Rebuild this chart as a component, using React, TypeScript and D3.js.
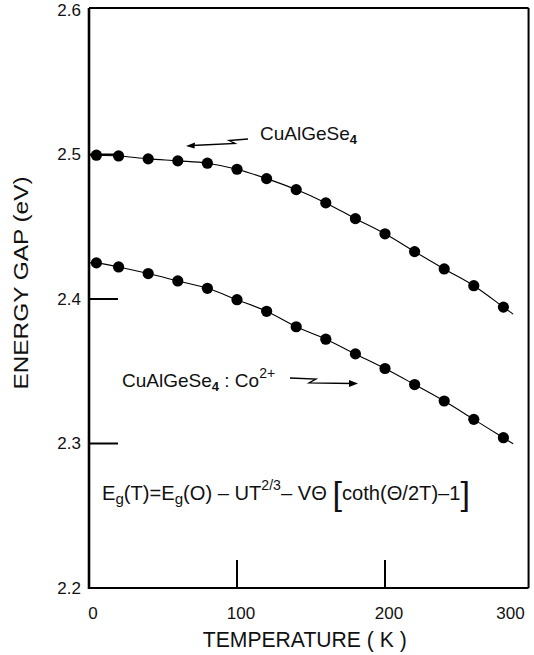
import React from 'react';
import * as d3 from 'd3';

// temperature (K) and energy gap (eV)
const temps = [5, 20, 40, 60, 80, 100, 120, 140, 160, 180, 200, 220, 240, 260, 280];
const pureGap = [2.4995, 2.499, 2.497, 2.4956, 2.494, 2.4898, 2.4833, 2.4757, 2.4665, 2.4556, 2.4451, 2.4328, 2.4208, 2.4092, 2.3944];
const cobaltGap = [2.425, 2.4222, 2.4176, 2.4125, 2.4074, 2.3995, 2.3915, 2.3808, 2.3722, 2.362, 2.3519, 2.3408, 2.3294, 2.3167, 2.304];

const xTicks = [0, 100, 200, 300];
const yTicks = [2.2, 2.3, 2.4, 2.5, 2.6];
const xInnerTicks = [100, 200];
const yInnerTicks = [2.3, 2.4, 2.5];
const xMax = 297;

const W = 534, H = 655;
const FONT = '"Liberation Sans", Arial, sans-serif';

const x = d3.scaleLinear().domain([0, 300]).range([89, 533]);
const y = d3.scaleLinear().domain([2.2, 2.6]).range([588, 10]);

function curvePath(vals: number[]) {
  const pts: [number, number][] = temps.map((t, i) => [x(t), y(vals[i])]);
  const n = pts.length;
  const p = pts[n - 1], q = pts[n - 2];
  // fitted curve runs a little past the last point, and starts at the axis
  const ext: [number, number] = [p[0] + (p[0] - q[0]) * 0.33, p[1] + (p[1] - q[1]) * 0.33];
  const all: [number, number][] = [[x(0), pts[0][1]], ...pts, ext];
  return d3.line().curve(d3.curveCatmullRom)(all) || '';
}

const App = () => {
  const x0 = x(0), x1 = x(xMax), yb = y(2.2), yt = y(2.6);
  return (
    <svg width={W} height={H} style={{ position: 'absolute', left: 0, top: 0, background: '#fff' }}>
      <rect width={W} height={H} fill="#fff" />
      {/* frame */}
      <line x1={x0} y1={yt - 2} x2={x0} y2={yb + 1} stroke="#000" strokeWidth={2.6} />
      <line x1={x0} y1={yb} x2={x1} y2={yb} stroke="#000" strokeWidth={2} />
      <line x1={x0} y1={yt - 2} x2={x1} y2={yt - 2} stroke="#000" strokeWidth={1.8} />
      <line x1={x1} y1={yt - 2} x2={x1} y2={yb} stroke="#000" strokeWidth={2} />

      {yInnerTicks.map(v => (
        <line key={'yt' + v} x1={x0} x2={x0 + 29} y1={y(v)} y2={y(v)} stroke="#000" strokeWidth={2} />
      ))}
      {xInnerTicks.map(v => (
        <line key={'xt' + v} x1={x(v)} x2={x(v)} y1={yb} y2={yb - 28} stroke="#000" strokeWidth={2} />
      ))}

      {yTicks.map(v => (
        <text key={'yl' + v} x={x0 - 8} y={y(v)} dy="0.35em" textAnchor="end"
          fontFamily={FONT} fontSize={17} fill="#111">{v.toFixed(1)}</text>
      ))}
      {xTicks.map((v, i) => (
        <text key={'xl' + v} x={i === xTicks.length - 1 ? x1 - 18 : x(v) + 4} y={619} textAnchor="middle"
          fontFamily={FONT} fontSize={17} fill="#111">{v}</text>
      ))}

      <text x={(x0 + x(xMax)) / 2 - 4} y={647} textAnchor="middle" fontFamily={FONT} fontSize={22}
        textLength={204} lengthAdjust="spacingAndGlyphs" fill="#111">TEMPERATURE ( K )</text>
      <text transform="translate(28,283) rotate(-90)" textAnchor="middle" fontFamily={FONT} fontSize={21}
        textLength={213} lengthAdjust="spacingAndGlyphs" fill="#111">ENERGY  GAP  (eV)</text>

      {/* curves and points */}
      {[pureGap, cobaltGap].map((vals, k) => (
        <g key={'s' + k}>
          <path d={curvePath(vals)} fill="none" stroke="#000" strokeWidth={1.1} />
          {temps.map((t, i) => (
            <circle key={i} cx={x(t)} cy={y(vals[i])} r={5.6} fill="#000" />
          ))}
        </g>
      ))}

      {/* series labels */}
      <text x={260} y={140} fontFamily={FONT} fontSize={19} fill="#111">
        CuAlGeSe<tspan dy={4} fontSize={13} fontWeight="bold">4</tspan>
      </text>
      <path d="M248,139 L229,140.5 L235,143.5 L192,145.5" fill="none" stroke="#000" strokeWidth={1.3} />
      <path d="M186,146 L195,142.5 L194.5,148.5 Z" fill="#000" />

      <text x={122} y={387} fontFamily={FONT} fontSize={19} fill="#111">
        CuAlGeSe<tspan dy={4} fontSize={13} fontWeight="bold">4</tspan>
        <tspan dy={-4}> : Co</tspan>
        <tspan dy={-9} fontSize={14}>2+</tspan>
      </text>
      <path d="M290,378 L316,379 L309,383 L352,383.5" fill="none" stroke="#000" strokeWidth={1.3} />
      <path d="M358,383.5 L349,380 L349,387 Z" fill="#000" />

      {/* Varshni-type expression */}
      <text x={102} y={500} fontFamily={FONT} fontSize={20} fill="#111" textLength={368} lengthAdjust="spacingAndGlyphs">
        E<tspan dy={4} fontSize={15}>g</tspan>
        <tspan dy={-4}>(T)=E</tspan>
        <tspan dy={4} fontSize={15}>g</tspan>
        <tspan dy={-4}>(O) – UT</tspan>
        <tspan dy={-10} fontSize={14}>2/3</tspan>
        <tspan dy={10}>– VΘ </tspan>
        <tspan fontSize={34} dy={5}>[</tspan>
        <tspan dy={-5}>coth(Θ/2T)–1</tspan>
        <tspan fontSize={34} dy={5}>]</tspan>
      </text>
    </svg>
  );
};

export default App;
